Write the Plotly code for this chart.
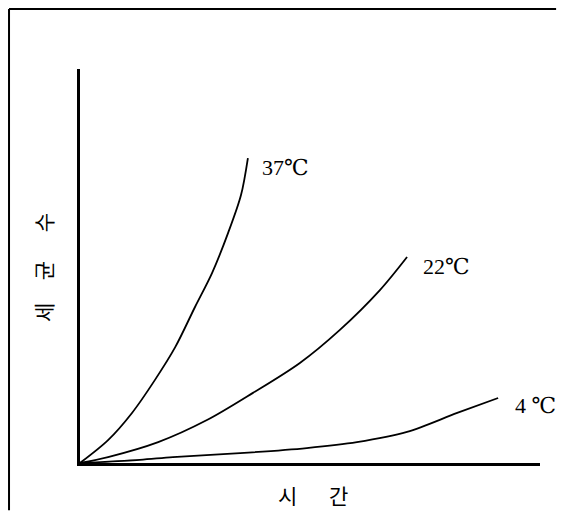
import plotly.graph_objects as go

# Data (arbitrary units: time vs bacteria count)
x37 = [0, 6.1, 11.3, 16.3, 20.7, 25.0, 28.7, 32.2, 35.0, 36.5]
y37 = [0, 5.8, 12.7, 21.1, 29.4, 39.6, 48.2, 58.4, 68.0, 77.4]
x22 = [0, 6.1, 17.0, 27.6, 37.6, 47.8, 56.5, 65.2, 71.1]
y22 = [0, 1.5, 5.3, 10.9, 17.8, 25.4, 33.8, 43.9, 52.3]
x4 = [0, 13.0, 20.2, 34.8, 49.3, 60.2, 71.1, 82.0, 90.9]
y4 = [0, 0.8, 1.5, 2.5, 3.8, 5.3, 7.9, 12.7, 16.5]
labels = ["37℃", "22℃", "4 ℃"]
ylabel_chars = ["세", "균", "수"]
xlabel_chars = ["시", "간"]

fig = go.Figure()
for xs, ys in [(x37, y37), (x22, y22), (x4, y4)]:
    fig.add_trace(go.Scatter(x=xs, y=ys, mode="lines",
                             line=dict(color="black", width=1.8, shape="spline", smoothing=0.9),
                             hoverinfo="skip", showlegend=False, cliponaxis=False))

serif = "Liberation Serif, DejaVu Serif, serif"
label_pos = [(x37[-1] + 2.6, y37[-1] - 2.3), (x22[-1] + 3.0, y22[-1] - 2.5), (x4[-1] + 3.3, y4[-1] - 2.0)]
for (lx, ly), t in zip(label_pos, labels):
    fig.add_annotation(x=lx, y=ly, text=t, showarrow=False, xanchor="left", yanchor="middle",
                       font=dict(family=serif, size=22, color="black"))

kr = "Noto Sans CJK KR"
for ch, yp in zip(ylabel_chars, [0.381, 0.487, 0.609]):
    fig.add_annotation(xref="paper", yref="paper", x=-0.080, y=yp, text=ch, textangle=-90,
                       showarrow=False, xanchor="center", yanchor="middle",
                       font=dict(family=kr, size=21, color="black"))
for ch, xp in zip(xlabel_chars, [0.452, 0.563]):
    fig.add_annotation(xref="paper", yref="paper", x=xp, y=-0.081, text=ch,
                       showarrow=False, xanchor="center", yanchor="middle",
                       font=dict(family=kr, size=21, color="black"))

# outer frame: only its top and left edges fall inside the picture
fig.add_shape(type="line", xref="paper", yref="paper", x0=-0.1543, x1=1.035, y0=1.152, y1=1.152,
              line=dict(color="black", width=2))
fig.add_shape(type="line", xref="paper", yref="paper", x0=-0.1543, x1=-0.1543, y0=-0.12, y1=1.152,
              line=dict(color="black", width=2))

fig.update_layout(
    width=554, height=504,
    margin=dict(l=72, r=22, t=61, b=49),
    paper_bgcolor="white", plot_bgcolor="white",
    xaxis=dict(range=[0, 100], showgrid=False, zeroline=False, showticklabels=False, ticks="",
               showline=True, linecolor="black", linewidth=2.5, fixedrange=True),
    yaxis=dict(range=[0, 100], showgrid=False, zeroline=False, showticklabels=False, ticks="",
               showline=True, linecolor="black", linewidth=2.5, fixedrange=True),
)
fig.write_html("out.html")
